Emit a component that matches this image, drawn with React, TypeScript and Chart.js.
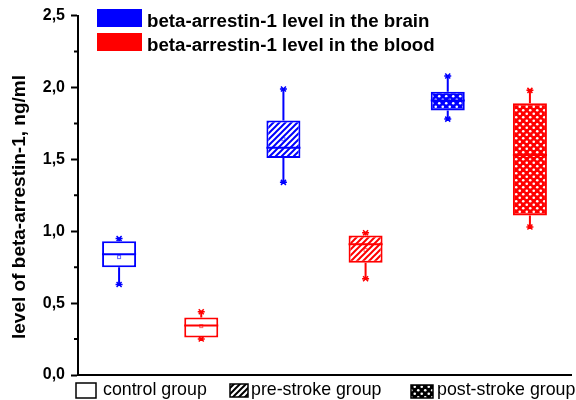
import React, { useEffect, useRef } from "react";
import { Chart, registerables } from "chart.js";

Chart.register(...registerables);

// ---------- data ----------
const groups = ["control group", "pre-stroke group", "post-stroke group"];
const seriesNames = [
  "beta-arrestin-1 level in the brain",
  "beta-arrestin-1 level in the blood",
];

const brainMin = [0.63, 1.34, 1.78];
const brainQ1 = [0.75, 1.51, 1.84];
const brainMedian = [0.84, 1.58, 1.91];
const brainMean = [0.82, 1.64, 1.92];
const brainQ3 = [0.93, 1.77, 1.97];
const brainMax = [0.95, 1.99, 2.08];

const bloodMin = [0.25, 0.67, 1.03];
const bloodQ1 = [0.26, 0.78, 1.11];
const bloodMedian = [0.345, 0.91, 1.53];
const bloodMean = [0.34, 0.87, 1.5];
const bloodQ3 = [0.4, 0.97, 1.89];
const bloodMax = [0.44, 0.99, 1.98];

const yMajorStep = 0.5;
const yMinorTicks = [0.25, 0.75, 1.25, 1.75, 2.25];
const yMin = 0;
const yMax = 2.5;
const yTitle = "level of beta-arrestin-1, ng/ml";

const groupFills = ["none", "hatch", "dots"];

// ---------- styles ----------
const BLUE = "#0000ff";
const RED = "#ff0000";
const FONT = '"Liberation Sans", Arial, Helvetica, sans-serif';

function makeFill(kind: string, color: string): any {
  if (kind === "none") return "#ffffff";
  const s = kind === "hatch" ? 6 : 7;
  const c = document.createElement("canvas");
  c.width = s;
  c.height = s;
  const g = c.getContext("2d")!;
  if (kind === "hatch") {
    g.fillStyle = "#ffffff";
    g.fillRect(0, 0, s, s);
    g.strokeStyle = color;
    g.lineWidth = 2;
    g.beginPath();
    g.moveTo(-1, s + 1);
    g.lineTo(s + 1, -1);
    g.moveTo(-3, 3);
    g.lineTo(3, -3);
    g.moveTo(s - 3, s + 3);
    g.lineTo(s + 3, s - 3);
    g.stroke();
  } else {
    g.fillStyle = color;
    g.fillRect(0, 0, s, s);
    g.fillStyle = "#ffffff";
    g.beginPath();
    g.arc(1.75, 1.75, 1.3, 0, Math.PI * 2);
    g.fill();
    g.beginPath();
    g.arc(5.25, 5.25, 1.3, 0, Math.PI * 2);
    g.fill();
  }
  return g.createPattern(c, "repeat");
}

const boxStats = [
  { min: brainMin, q1: brainQ1, med: brainMedian, mean: brainMean, q3: brainQ3, max: brainMax, color: BLUE },
  { min: bloodMin, q1: bloodQ1, med: bloodMedian, mean: bloodMean, q3: bloodQ3, max: bloodMax, color: RED },
];

const boxPlugin = {
  id: "boxExtras",
  beforeDatasetsDraw(chart: any) {
    const ctx = chart.ctx;
    const y = chart.scales.y;
    boxStats.forEach((st, d) => {
      const meta = chart.getDatasetMeta(d);
      meta.data.forEach((bar: any, i: number) => {
        const x = bar.x;
        ctx.save();
        ctx.strokeStyle = st.color;
        ctx.lineWidth = 2;
        ctx.beginPath();
        ctx.moveTo(x, y.getPixelForValue(st.q3[i]));
        ctx.lineTo(x, y.getPixelForValue(st.max[i]));
        ctx.moveTo(x, y.getPixelForValue(st.q1[i]));
        ctx.lineTo(x, y.getPixelForValue(st.min[i]));
        ctx.stroke();
        ctx.restore();
      });
    });
  },
  afterDatasetsDraw(chart: any) {
    const ctx = chart.ctx;
    const y = chart.scales.y;
    boxStats.forEach((st, d) => {
      const meta = chart.getDatasetMeta(d);
      meta.data.forEach((bar: any, i: number) => {
        const x = bar.x;
        const w = bar.width;
        ctx.save();
        ctx.strokeStyle = st.color;
        // median
        ctx.lineWidth = 2;
        const ym = y.getPixelForValue(st.med[i]);
        ctx.beginPath();
        ctx.moveTo(x - w / 2, ym);
        ctx.lineTo(x + w / 2, ym);
        ctx.stroke();
        // caps
        ctx.lineWidth = 1.5;
        [st.min[i], st.max[i]].forEach((v) => {
          const yy = y.getPixelForValue(v);
          ctx.beginPath();
          ctx.moveTo(x - 3.5, yy);
          ctx.lineTo(x + 3.5, yy);
          ctx.moveTo(x - 2.5, yy - 2.5);
          ctx.lineTo(x + 2.5, yy + 2.5);
          ctx.moveTo(x - 2.5, yy + 2.5);
          ctx.lineTo(x + 2.5, yy - 2.5);
          ctx.stroke();
        });
        // mean marker
        ctx.globalAlpha = 0.6;
        ctx.lineWidth = 1;
        const ymean = y.getPixelForValue(st.mean[i]);
        ctx.strokeRect(x - 1.5, ymean - 1.5, 3, 3);
        ctx.restore();
      });
    });
  },
  afterDraw(chart: any) {
    const ctx = chart.ctx;
    const y = chart.scales.y;
    const left = chart.chartArea.left;
    ctx.save();
    // minor ticks
    ctx.strokeStyle = "#000";
    ctx.lineWidth = 2;
    ctx.beginPath();
    yMinorTicks.forEach((v) => {
      const yy = y.getPixelForValue(v);
      ctx.moveTo(left - 4, yy);
      ctx.lineTo(left, yy);
    });
    ctx.stroke();

    // y title
    ctx.save();
    ctx.translate(25, 207);
    ctx.rotate(-Math.PI / 2);
    ctx.fillStyle = "#000";
    ctx.font = `bold 19px ${FONT}`;
    ctx.textAlign = "center";
    ctx.textBaseline = "alphabetic";
    ctx.fillText(yTitle, 0, 0);
    ctx.restore();

    // top legend (series)
    const colors = [BLUE, RED];
    ctx.font = `bold 18.7px ${FONT}`;
    ctx.textAlign = "left";
    ctx.textBaseline = "alphabetic";
    seriesNames.forEach((name, k) => {
      const top = 9 + k * 24;
      ctx.fillStyle = colors[k];
      ctx.fillRect(97, top, 45, 18);
      ctx.fillStyle = "#000";
      ctx.fillText(name, 147, top + 17.5);
    });

    // bottom legend (groups)
    const boxes = [
      { x: 76, y: 383, w: 20, h: 15, tx: 103 },
      { x: 230, y: 384, w: 18, h: 13, tx: 251 },
      { x: 411, y: 385, w: 22, h: 13, tx: 437 },
    ];
    ctx.font = `17.8px ${FONT}`;
    groups.forEach((gname, k) => {
      const b = boxes[k];
      ctx.fillStyle = makeFill(groupFills[k], "#000");
      ctx.fillRect(b.x, b.y, b.w, b.h);
      ctx.strokeStyle = "#000";
      ctx.lineWidth = 1.5;
      ctx.strokeRect(b.x, b.y, b.w, b.h);
      ctx.fillStyle = "#000";
      ctx.fillText(gname, b.tx, 395);
    });
    ctx.restore();
  },
};

export default function App() {
  const ref = useRef<HTMLCanvasElement>(null);

  useEffect(() => {
    if (!ref.current) return;
    const chart = new Chart(ref.current, {
      type: "bar",
      data: {
        labels: groups,
        datasets: boxStats.map((st, d) => ({
          label: seriesNames[d],
          data: st.q1.map((q, i) => [q, st.q3[i]]),
          backgroundColor: groupFills.map((f) => makeFill(f, st.color)),
          borderColor: st.color,
          borderWidth: 2,
          borderSkipped: false,
          categoryPercentage: 1.0,
          barPercentage: 0.414,
        })),
      },
      plugins: [boxPlugin],
      options: {
        animation: false,
        responsive: true,
        maintainAspectRatio: false,
        devicePixelRatio: 1,
        layout: { padding: { top: 15, right: 5, left: 0, bottom: 0 } },
        plugins: {
          legend: { display: false },
          tooltip: { enabled: false },
        },
        scales: {
          x: {
            type: "category",
            grid: { display: false },
            ticks: { display: false },
            border: { display: true, color: "#000", width: 2 },
            afterFit(scale: any) {
              scale.height = 25;
            },
          },
          y: {
            min: yMin,
            max: yMax,
            ticks: {
              stepSize: yMajorStep,
              color: "#000",
              padding: 6,
              font: { family: FONT, size: 16, weight: "bold" },
              callback: (v: any) => Number(v).toFixed(1).replace(".", ","),
            },
            grid: {
              drawOnChartArea: false,
              drawTicks: true,
              tickLength: 7,
              tickWidth: 2,
              tickColor: "#000",
            },
            border: { display: true, color: "#000", width: 2 },
            afterFit(scale: any) {
              scale.width = 78;
            },
          },
        },
      } as any,
    });
    return () => chart.destroy();
  }, []);

  return (
    <div style={{ position: "fixed", left: 0, top: 0, width: 576, height: 400, background: "#fff" }}>
      <canvas ref={ref} />
    </div>
  );
}
